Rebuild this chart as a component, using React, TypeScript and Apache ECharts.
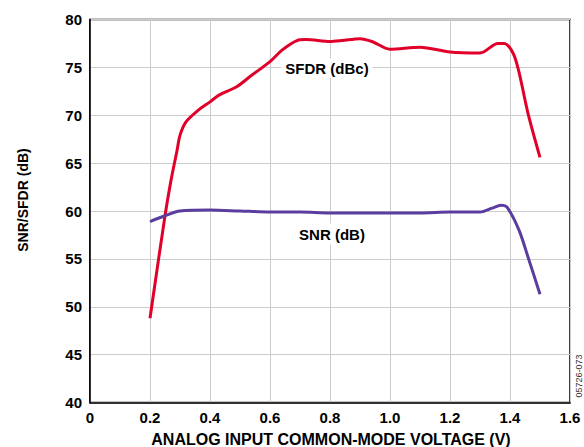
import React, { useEffect, useRef } from "react";
import * as echarts from "echarts";

const sfdrX = [0.2, 0.25, 0.27, 0.29, 0.3, 0.32, 0.36, 0.4, 0.43, 0.49, 0.54, 0.6, 0.64, 0.69, 0.72, 0.8, 0.84, 0.9, 0.94, 1.0, 1.1, 1.2, 1.3, 1.36, 1.38, 1.41, 1.43, 1.46, 1.5];
const sfdrY = [48.8, 59.5, 63.2, 66.3, 67.9, 69.3, 70.5, 71.4, 72.1, 73.0, 74.2, 75.6, 76.8, 77.8, 77.9, 77.7, 77.8, 78.0, 77.7, 76.9, 77.1, 76.6, 76.5, 77.5, 77.5, 76.5, 74.5, 70.2, 65.6];

const snrX = [0.2, 0.25, 0.3, 0.4, 0.5, 0.6, 0.7, 0.8, 1.0, 1.1, 1.2, 1.3, 1.34, 1.37, 1.39, 1.43, 1.46, 1.5];
const snrY = [58.9, 59.5, 60.0, 60.1, 60.0, 59.9, 59.9, 59.8, 59.8, 59.8, 59.9, 59.9, 60.3, 60.6, 60.4, 58.0, 55.2, 51.3];

const xTitle = "ANALOG INPUT COMMON-MODE VOLTAGE (V)";
const yTitle = "SNR/SFDR (dB)";
const sfdrLabel = "SFDR (dBc)";
const snrLabel = "SNR (dB)";
const figId = "05726-073";

const FONT = "'Liberation Sans', Arial, sans-serif";

export default function App() {
  const ref = useRef<HTMLDivElement>(null);
  useEffect(() => {
    const chart = echarts.init(ref.current!, null, { renderer: "svg" });
    chart.setOption({
      animation: false,
      backgroundColor: "#fff",
      grid: {
        left: 90,
        top: 19.5,
        right: 14,
        bottom: 44.5,
        show: true,
        borderColor: "#000",
        borderWidth: 1.5,
        backgroundColor: "transparent",
      },
      xAxis: {
        type: "value",
        min: 0,
        max: 1.6,
        interval: 0.2,
        axisLine: { show: true, lineStyle: { color: "#000", width: 1.5 } },
        axisTick: { show: false },
        splitLine: { show: true, lineStyle: { color: "#cccccc", width: 1 } },
        axisLabel: {
          margin: 7,
          color: "#000",
          fontFamily: FONT,
          fontWeight: "bold",
          fontSize: 15,
          formatter: (v: number) => (v === 0 ? "0" : v.toFixed(1)),
        },
      },
      yAxis: {
        type: "value",
        min: 40,
        max: 80,
        interval: 5,
        axisLine: { show: true, lineStyle: { color: "#000", width: 1.5 } },
        axisTick: { show: false },
        splitLine: { show: true, lineStyle: { color: "#cccccc", width: 1 } },
        axisLabel: {
          margin: 8,
          color: "#000",
          fontFamily: FONT,
          fontWeight: "bold",
          fontSize: 15,
        },
      },
      series: [
        {
          type: "line",
          data: sfdrX.map((x, i) => [x, sfdrY[i]]),
          showSymbol: false,
          smooth: 0.3,
          lineStyle: { color: "#e0002a", width: 3 },
        },
        {
          type: "line",
          data: snrX.map((x, i) => [x, snrY[i]]),
          showSymbol: false,
          smooth: 0.3,
          lineStyle: { color: "#5a3d9e", width: 3 },
        },
      ],
      graphic: [
        {
          type: "text",
          x: 327,
          y: 68,
          z: 100,
          style: { text: sfdrLabel, fontFamily: FONT, fontWeight: "bold", fontSize: 15, fill: "#000", align: "center", verticalAlign: "middle", backgroundColor: "#fff", padding: [2, 4] },
        },
        {
          type: "text",
          x: 332,
          y: 234,
          z: 100,
          style: { text: snrLabel, fontFamily: FONT, fontWeight: "bold", fontSize: 15, fill: "#000", align: "center", verticalAlign: "middle", backgroundColor: "#fff", padding: [3, 4] },
        },
        {
          type: "text",
          x: 331,
          y: 439,
          style: { text: xTitle, fontFamily: FONT, fontWeight: "bold", fontSize: 16, fill: "#000", align: "center", verticalAlign: "middle" },
        },
        {
          type: "text",
          x: 23,
          y: 200,
          rotation: Math.PI / 2,
          style: { text: yTitle, fontFamily: FONT, fontWeight: "bold", fontSize: 14, fill: "#000", align: "center", verticalAlign: "middle" },
        },
        {
          type: "text",
          x: 579,
          y: 376,
          rotation: Math.PI / 2,
          style: { text: figId, fontFamily: FONT, fontSize: 9, fill: "#333", align: "center", verticalAlign: "middle" },
        },
      ],
    });
    return () => chart.dispose();
  }, []);
  return <div ref={ref} style={{ width: 584, height: 447, position: "absolute", left: 0, top: 0 }} />;
}
